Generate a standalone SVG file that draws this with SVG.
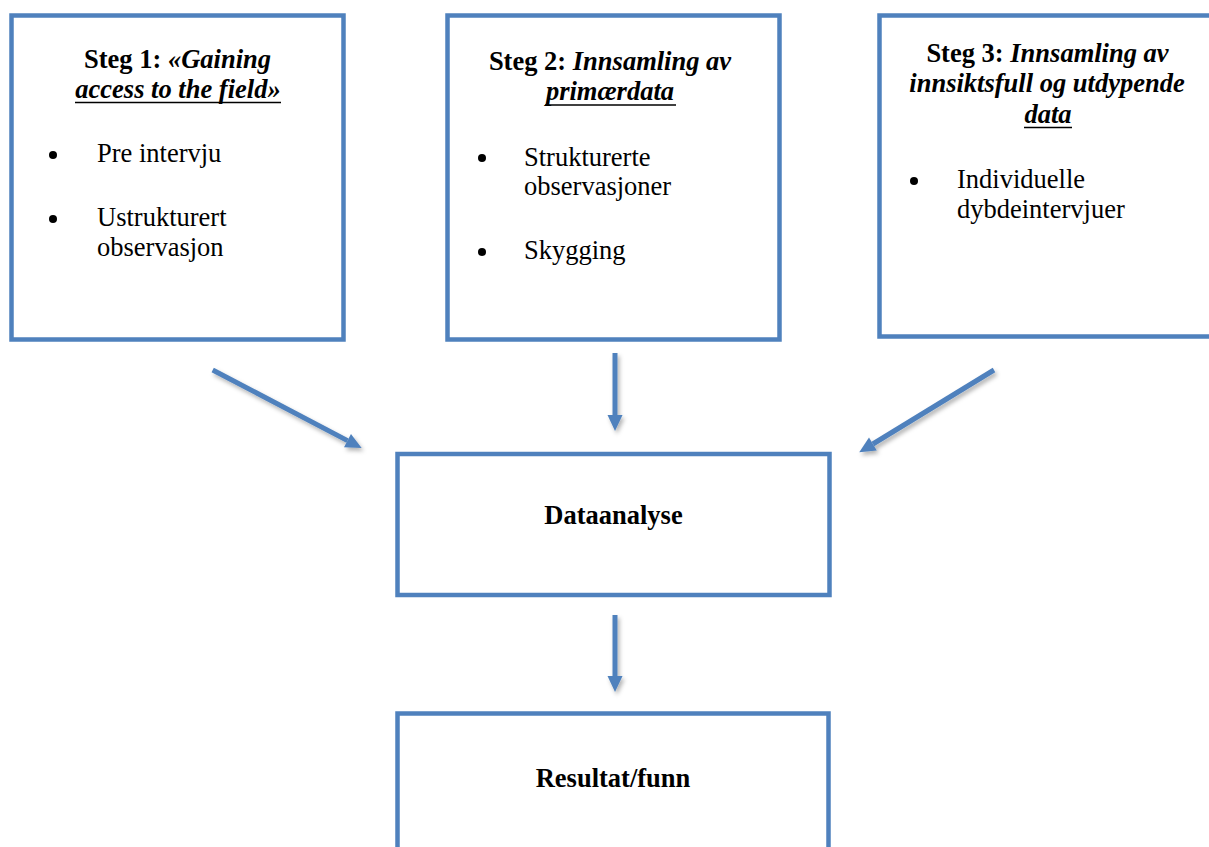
<svg xmlns="http://www.w3.org/2000/svg" width="1209" height="847" viewBox="0 0 1209 847">
<style>
.box{fill:#fff;stroke:#4F81BD;stroke-width:4.5}
.t{font-family:"Liberation Serif","Times New Roman",serif;font-size:26.5px;fill:#000}
.b{font-weight:bold}
.i{font-style:italic}
.c{text-anchor:middle}
.ul{stroke:#000;stroke-width:1.6}
.conn{stroke:#4F81BD;stroke-width:5;fill:none;marker-end:url(#ah);filter:url(#sh)}
</style>
<defs>
<marker id="ah" markerUnits="userSpaceOnUse" markerWidth="16" markerHeight="15" refX="0" refY="7.5" orient="auto" overflow="visible">
<path d="M0,0 L16,7.5 L0,15 z" fill="#4F81BD"/>
</marker>
<filter id="sh" filterUnits="userSpaceOnUse" x="0" y="0" width="1209" height="847">
<feDropShadow dx="2" dy="3" stdDeviation="2" flood-color="#000" flood-opacity="0.3"/>
</filter>
</defs>
<rect width="1209" height="847" fill="#fff"/>
<g id="step1">
<rect class="box" x="11.5" y="15.5" width="332" height="324"/>
<text class="t b c" x="177.5" y="68">Steg 1: <tspan class="i">«Gaining</tspan></text>
<text class="t b i c" x="178" y="98">access to the field»</text>
<line class="ul" x1="75" y1="102.5" x2="281" y2="102.5"/>
<circle cx="53" cy="155" r="4"/>
<text class="t" x="97" y="162">Pre intervju</text>
<circle cx="53" cy="219" r="4"/>
<text class="t" x="97" y="226">Ustrukturert</text>
<text class="t" x="97" y="256">observasjon</text>
</g>
<g id="step2">
<rect class="box" x="447.5" y="15.5" width="332" height="324"/>
<text class="t b c" x="610" y="70">Steg 2: <tspan class="i">Innsamling av</tspan></text>
<text class="t b i c" x="610" y="100">primærdata</text>
<line class="ul" x1="545" y1="105" x2="676" y2="105"/>
<circle cx="482" cy="158" r="4"/>
<text class="t" x="524" y="166">Strukturerte</text>
<text class="t" x="524" y="195">observasjoner</text>
<circle cx="482" cy="252" r="4"/>
<text class="t" x="524" y="259">Skygging</text>
</g>
<g id="step3">
<rect class="box" x="879.5" y="15.5" width="340" height="321"/>
<text class="t b c" x="1047.5" y="62">Steg 3: <tspan class="i">Innsamling av</tspan></text>
<text class="t b i c" x="1047" y="92">innsiktsfull og utdypende</text>
<text class="t b i c" x="1048" y="123">data</text>
<line class="ul" x1="1024" y1="127.5" x2="1072" y2="127.5"/>
<circle cx="914" cy="181" r="4"/>
<text class="t" x="957" y="188">Individuelle</text>
<text class="t" x="957" y="218">dybdeintervjuer</text>
</g>
<g id="dataanalyse">
<rect class="box" x="397.5" y="454" width="432" height="141"/>
<text class="t b c" x="613.5" y="524">Dataanalyse</text>
</g>
<g id="resultat">
<rect class="box" x="397.5" y="713.5" width="431" height="200"/>
<text class="t b c" x="613" y="787">Resultat/funn</text>
</g>
<g id="connectors">
<line class="conn" x1="212.7" y1="370" x2="347.5" y2="440.6"/>
<line class="conn" x1="615" y1="353" x2="615" y2="415"/>
<line class="conn" x1="994" y1="370" x2="872.9" y2="444"/>
<line class="conn" x1="615" y1="615" x2="615" y2="676"/>
</g>
</svg>
